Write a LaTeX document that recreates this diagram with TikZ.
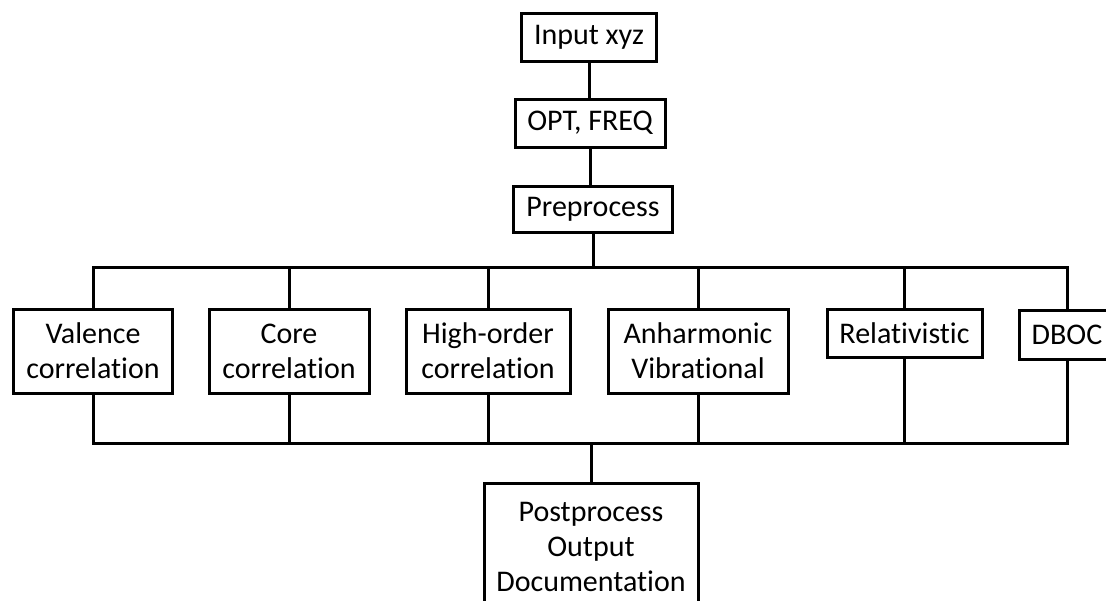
\documentclass[tikz,border=0pt]{standalone}
\usepackage{fontspec}
\setmainfont[Ligatures=NoCommon]{Carlito}
\begin{document}
\begin{tikzpicture}[x=1pt,y=-1pt,
  box/.style={draw=black,line width=3pt,inner sep=0pt,align=center,
    font=\fontsize{30}{35}\selectfont,text=black},
  conn/.style={line width=3pt,draw=black}]
\useasboundingbox (0,0) rectangle (1106,600);
\node[box,minimum width=135pt,minimum height=48pt] (inp) at (589,37) {Input xyz};
\node[box,minimum width=150pt,minimum height=48pt] (opt) at (590,123) {OPT, FREQ};
\node[box,minimum width=159pt,minimum height=46pt] (pre) at (593,209) {Preprocess};
\node[box,minimum width=159pt,minimum height=84pt] (val) at (93,351) {Valence\\correlation};
\node[box,minimum width=160pt,minimum height=84pt] (core) at (289,351) {Core\\correlation};
\node[box,minimum width=164pt,minimum height=84pt] (high) at (488,351) {High-order\\correlation};
\node[box,minimum width=180pt,minimum height=84pt] (anh) at (698,351) {Anharmonic\\Vibrational};
\node[box,minimum width=155pt,minimum height=48pt] (rel) at (904.5,333) {Relativistic};
\node[box,minimum width=96pt,minimum height=49pt] (dboc) at (1067,334.5) {DBOC};
\node[box,minimum width=214pt,minimum height=127pt] (post) at (591,546.5) {Postprocess\\Output\\Documentation};
\coordinate (tb) at (0,267);
\coordinate (bb) at (0,443);
\draw[conn] (inp.south) -- (inp.south |- opt.north);
\draw[conn] (opt.south) -- (opt.south |- pre.north);
\draw[conn] (pre.south) -- (pre.south |- tb);
\draw[conn,line cap=rect] (val.north |- tb) -- (dboc.north |- tb);
\foreach \n in {val,core,high,anh,rel,dboc}{
  \draw[conn] (\n.north) -- (\n.north |- tb);
  \draw[conn] (\n.south) -- (\n.south |- bb);
}
\draw[conn,line cap=rect] (val.south |- bb) -- (dboc.south |- bb);
\draw[conn] (post.north) -- (post.north |- bb);
\end{tikzpicture}
\end{document}
